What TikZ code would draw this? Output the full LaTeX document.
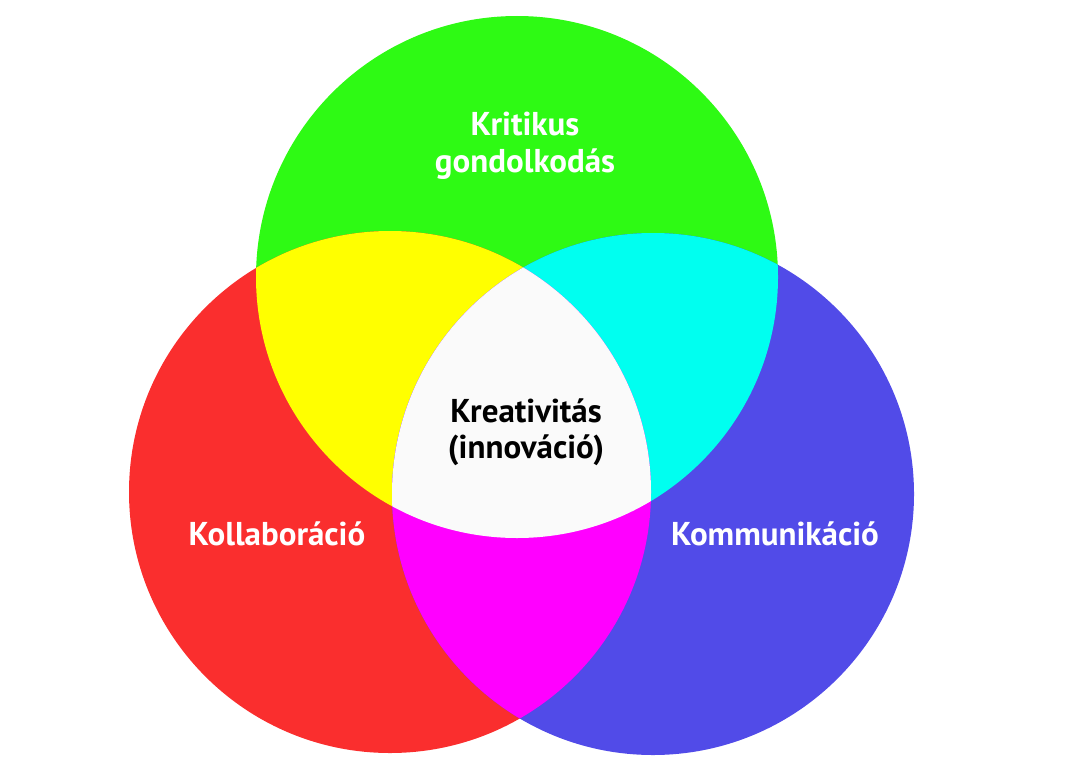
\documentclass[tikz,border=0pt]{standalone}
\usepackage{fontspec}
\setmainfont{PT Sans}
\definecolor{kritgreen}{RGB}{46,250,20}
\definecolor{kollred}{RGB}{250,46,46}
\definecolor{kommblue}{RGB}{81,75,232}
\definecolor{mixyellow}{RGB}{255,255,0}
\definecolor{mixcyan}{RGB}{0,255,240}
\definecolor{mixmagenta}{RGB}{255,0,255}
\definecolor{mixwhite}{RGB}{250,250,250}
\begin{document}
\begin{tikzpicture}[x=1pt,y=-1pt,
		every node/.style={font=\bfseries\fontsize{33}{36}\selectfont,align=center,anchor=base,inner sep=0pt},
		label/.style={text=white},
		centerlabel/.style={text=black}]
		\useasboundingbox (0,0) rectangle (1067,776);
		
		\coordinate (g) at (517,277);
		\coordinate (r) at (390,492);
		\coordinate (b) at (653,494);
		
		\fill[kritgreen] (g) circle (261pt);
		\fill[kollred]   (r) circle (261pt);
		\fill[kommblue]  (b) circle (261pt);
		
		\begin{scope}
		\clip (g) circle (261pt);
		\fill[mixyellow] (r) circle (261pt);
		\fill[mixcyan]   (b) circle (261pt);
		\end{scope}
		\begin{scope}
		\clip (r) circle (261pt);
		\fill[mixmagenta] (b) circle (261pt);
		\clip (b) circle (261pt);
		\fill[mixwhite] (g) circle (261pt);
		\end{scope}
		
		% base anchor sits on the last line
		\node[label]       (krit) at (525,172) {Kritikus\\[1pt]gondolkodás};
		\node[label]       (koll) at (277,545) {Kollaboráció};
		\node[label]       (komm) at (775,545) {Kommunikáció};
		\node[centerlabel] (krea) at (526,458) {Kreativitás\\(innováció)};
\end{tikzpicture}
\end{document}
